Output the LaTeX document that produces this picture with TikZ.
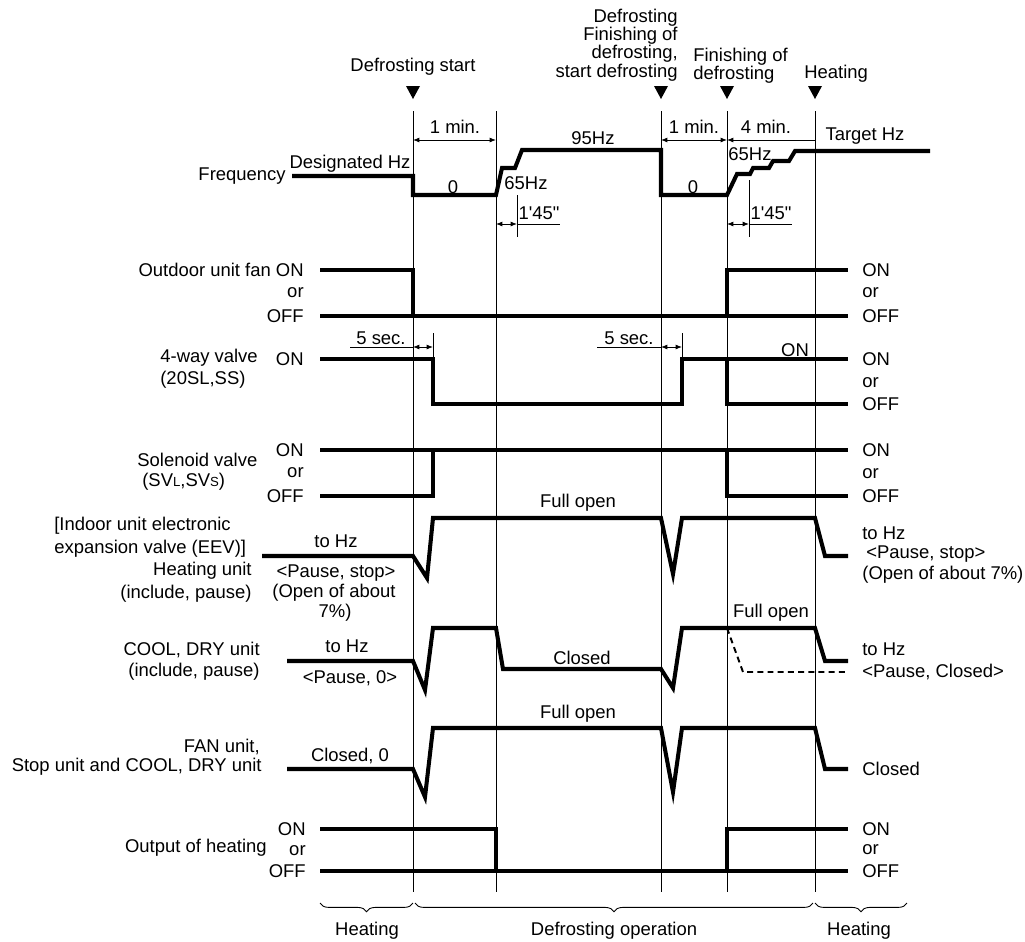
\documentclass[tikz,border=0pt]{standalone}
\usepackage{fontspec}
\newfontfamily\lsans{Liberation Sans}
\usetikzlibrary{arrows.meta,decorations.pathreplacing}
\newcommand\smallcap[1]{{\fontsize{7.5}{7.5}\selectfont #1}}

\begin{document}
\begin{tikzpicture}[x = 0.02cm, y = -0.02cm,
    font = \lsans\fontsize{10.5}{10.4}\selectfont,
    every node/.style = {inner sep = 0pt},
    sig/.style = {line width = 2.3pt},
    guide/.style = {line width = .5pt},
    dim/.style = {line width = .45pt, >={Latex[length = 3.6pt, width = 2.8pt]}},
    lft/.style = {anchor = east},
    rgt/.style = {anchor = west}]
  \useasboundingbox (0,0) rectangle (1025,941);

  % event markers and time lines
  \foreach \t in {413, 661, 727, 815}
    \fill (\t-7,86) -- (\t+7,86) -- (\t,99) -- cycle;
  \foreach \t in {413, 496, 661, 727, 815}
    \draw [guide] (\t,111) -- (\t,892);
  \node (start) at (413,67) {Defrosting start};
  \node [align = right, lft] (restart) at (678,45)
    {Defrosting\\Finishing of\\defrosting,\\start defrosting};
  \node [align = left, rgt] (finish) at (693,66) {Finishing of\\defrosting};
  \node [rgt] (heatmark) at (804,74) {Heating};

  % frequency
  \node [lft] (freq) at (286,176) {Frequency};
  \node (desig) at (350,164) {Designated Hz};
  \draw [sig] (292,176) -- (413,176) -- (413,195) -- (496,195) -- (502,168)
    -- (515,168) -- (522,150) -- (661,150) -- (661,195) -- (727,195)
    -- (737,174) -- (750,174) -- (753,168) -- (769,168) -- (773,161)
    -- (789,161) -- (795,151) -- (930,151);
  \node (zeroa) at (453,187) {0};
  \node (lowa) at (526,183) {65Hz};
  \node (high) at (593,138) {95Hz};
  \node (zerob) at (693,187) {0};
  \node (lowb) at (750,154) {65Hz};
  \node (target) at (865,136) {Target Hz};
  \draw [dim, <->] (413,140) -- (496,140);
  \node (mina) at (455,127) {1 min.};
  \draw [dim, <->] (661,140) -- (727,140);
  \node (minb) at (694,127) {1 min.};
  \draw [dim, <-] (727,140) -- (815,140);
  \node (minc) at (766,127) {4 min.};
  \draw [dim] (517,195) -- (517,237);
  \draw [dim, <->] (496,224) -- (517,224);
  \draw [dim] (517,224) -- (560,224);
  \node (rampa) at (539,213) {1'45"};
  \draw [dim] (749,180) -- (749,237);
  \draw [dim, <->] (727,224) -- (749,224);
  \draw [dim] (749,224) -- (792,224);
  \node (rampb) at (771,213) {1'45"};

  % outdoor unit fan
  \node [lft] (fanon) at (304,270) {Outdoor unit fan ON};
  \node [lft] (fanor) at (304,293) {or};
  \node [lft] (fanoff) at (304,316) {OFF};
  \draw [sig] (320,270) -- (413,270) -- (413,316);
  \draw [sig] (320,316) -- (848,316);
  \draw [sig] (727,316) -- (727,270) -- (848,270);
  \node [rgt] (fanonr) at (862,270) {ON};
  \node [rgt] (fanorr) at (862,293) {or};
  \node [rgt] (fanoffr) at (862,316) {OFF};

  % 4-way valve
  \node [rgt] (way) at (160,358) {4-way valve};
  \node [rgt] (wayid) at (160,380) {(20SL,SS)};
  \node [lft] (wayon) at (304,359) {ON};
  \draw [sig] (320,359) -- (433,359) -- (433,404) -- (682,404) -- (682,359)
    -- (848,359);
  \draw [sig] (727,359) -- (727,404) -- (848,404);
  \node (seca) at (381,338) {5 sec.};
  \draw [dim] (350,347) -- (413,347);
  \draw [dim, <->] (413,347) -- (433,347);
  \draw [dim] (433,333) -- (433,359);
  \node (secb) at (629,338) {5 sec.};
  \draw [dim] (597,347) -- (661,347);
  \draw [dim, <->] (661,347) -- (682,347);
  \draw [dim] (682,333) -- (682,359);
  \node (wayonmid) at (795,350) {ON};
  \node [rgt] (wayonr) at (862,359) {ON};
  \node [rgt] (wayorr) at (862,383) {or};
  \node [rgt] (wayoffr) at (862,404) {OFF};

  % solenoid valve
  \node [rgt] (sol) at (137,460) {Solenoid valve};
  \node [rgt] (solid) at (142,482) {(SV\smallcap{L},SV\smallcap{S})};
  \node [lft] (solon) at (304,450) {ON};
  \node [lft] (solor) at (304,473) {or};
  \node [lft] (soloff) at (304,496) {OFF};
  \draw [sig] (320,450) -- (848,450);
  \draw [sig] (320,496) -- (433,496) -- (433,450);
  \draw [sig] (727,450) -- (727,496) -- (848,496);
  \node [rgt] (solonr) at (862,450) {ON};
  \node [rgt] (solorr) at (862,474) {or};
  \node [rgt] (soloffr) at (862,496) {OFF};

  % indoor EEV, heating unit
  \node [rgt] (eev) at (54,526) {[Indoor unit electronic};
  \node [rgt] (eevb) at (54,549) {expansion valve (EEV)]};
  \node [lft] (hunit) at (252,571) {Heating unit};
  \node [lft] (hunitb) at (252,594) {(include, pause)};
  \node (htoh) at (336,541) {to Hz};
  \node (hpause) at (336,573) {<Pause, stop>};
  \node (hopen) at (334,593) {(Open of about};
  \node (hopenb) at (335,613) {7\%)};
  \draw [sig] (262,556) -- (413,556) -- (427,578) -- (433,518) -- (661,518)
    -- (673,574) -- (682,518) -- (815,518) -- (825,556) -- (848,556);
  \node (hfull) at (578,503) {Full open};
  \node [rgt] (htohr) at (862,533) {to Hz};
  \node [rgt] (hpauser) at (866,554) {<Pause, stop>};
  \node [rgt] (hopenr) at (862,575) {(Open of about 7\%)};

  % cool, dry unit
  \node [lft] (cunit) at (260,650) {COOL, DRY unit};
  \node [lft] (cunitb) at (260,672) {(include, pause)};
  \node (ctoh) at (347,646) {to Hz};
  \node (cpause) at (350,678) {<Pause, 0>};
  \draw [sig] (287,661) -- (413,661) -- (425,690) -- (433,628) -- (496,628)
    -- (503,669) -- (661,669) -- (673,688) -- (682,628) -- (815,628)
    -- (825,661) -- (848,661);
  \draw [line width = 1.1pt, dash pattern = on 3.4pt off 2.4pt]
    (727,628) -- (743,672) -- (848,672);
  \node (cclosed) at (582,658) {Closed};
  \node (cfull) at (771,613) {Full open};
  \node [rgt] (ctohr) at (862,649) {to Hz};
  \node [rgt] (cpauser) at (862,672) {<Pause, Closed>};

  % fan unit, stop unit
  \node [lft] (funit) at (260,747) {FAN unit,};
  \node [lft] (funitb) at (262,767) {Stop unit and COOL, DRY unit};
  \node (fclosed) at (350,756) {Closed, 0};
  \draw [sig] (287,769) -- (413,769) -- (425,797) -- (433,728) -- (661,728)
    -- (673,792) -- (682,728) -- (815,728) -- (825,769) -- (848,769);
  \node (ffull) at (578,714) {Full open};
  \node [rgt] (fclosedr) at (862,769) {Closed};

  % output of heating
  \node [lft] (outh) at (267,848) {Output of heating};
  \node [lft] (outon) at (306,829) {ON};
  \node [lft] (outor) at (306,851) {or};
  \node [lft] (outoff) at (306,871) {OFF};
  \draw [sig] (320,829) -- (496,829) -- (496,871);
  \draw [sig] (320,871) -- (848,871);
  \draw [sig] (727,871) -- (727,829) -- (848,829);
  \node [rgt] (outonr) at (862,829) {ON};
  \node [rgt] (outorr) at (862,850) {or};
  \node [rgt] (outoffr) at (862,871) {OFF};

  % operation periods
  \draw [guide, decorate, decoration = {brace, mirror, amplitude = 5pt}]
    (320,903) -- (413,903);
  \draw [guide, decorate, decoration = {brace, mirror, amplitude = 5pt}]
    (415,903) -- (813,903);
  \draw [guide, decorate, decoration = {brace, mirror, amplitude = 5pt}]
    (815,903) -- (907,903);
  \node (perheat) at (367,931) {Heating};
  \node (perdef) at (614,931) {Defrosting operation};
  \node (perheatb) at (859,931) {Heating};
\end{tikzpicture}
\end{document}
